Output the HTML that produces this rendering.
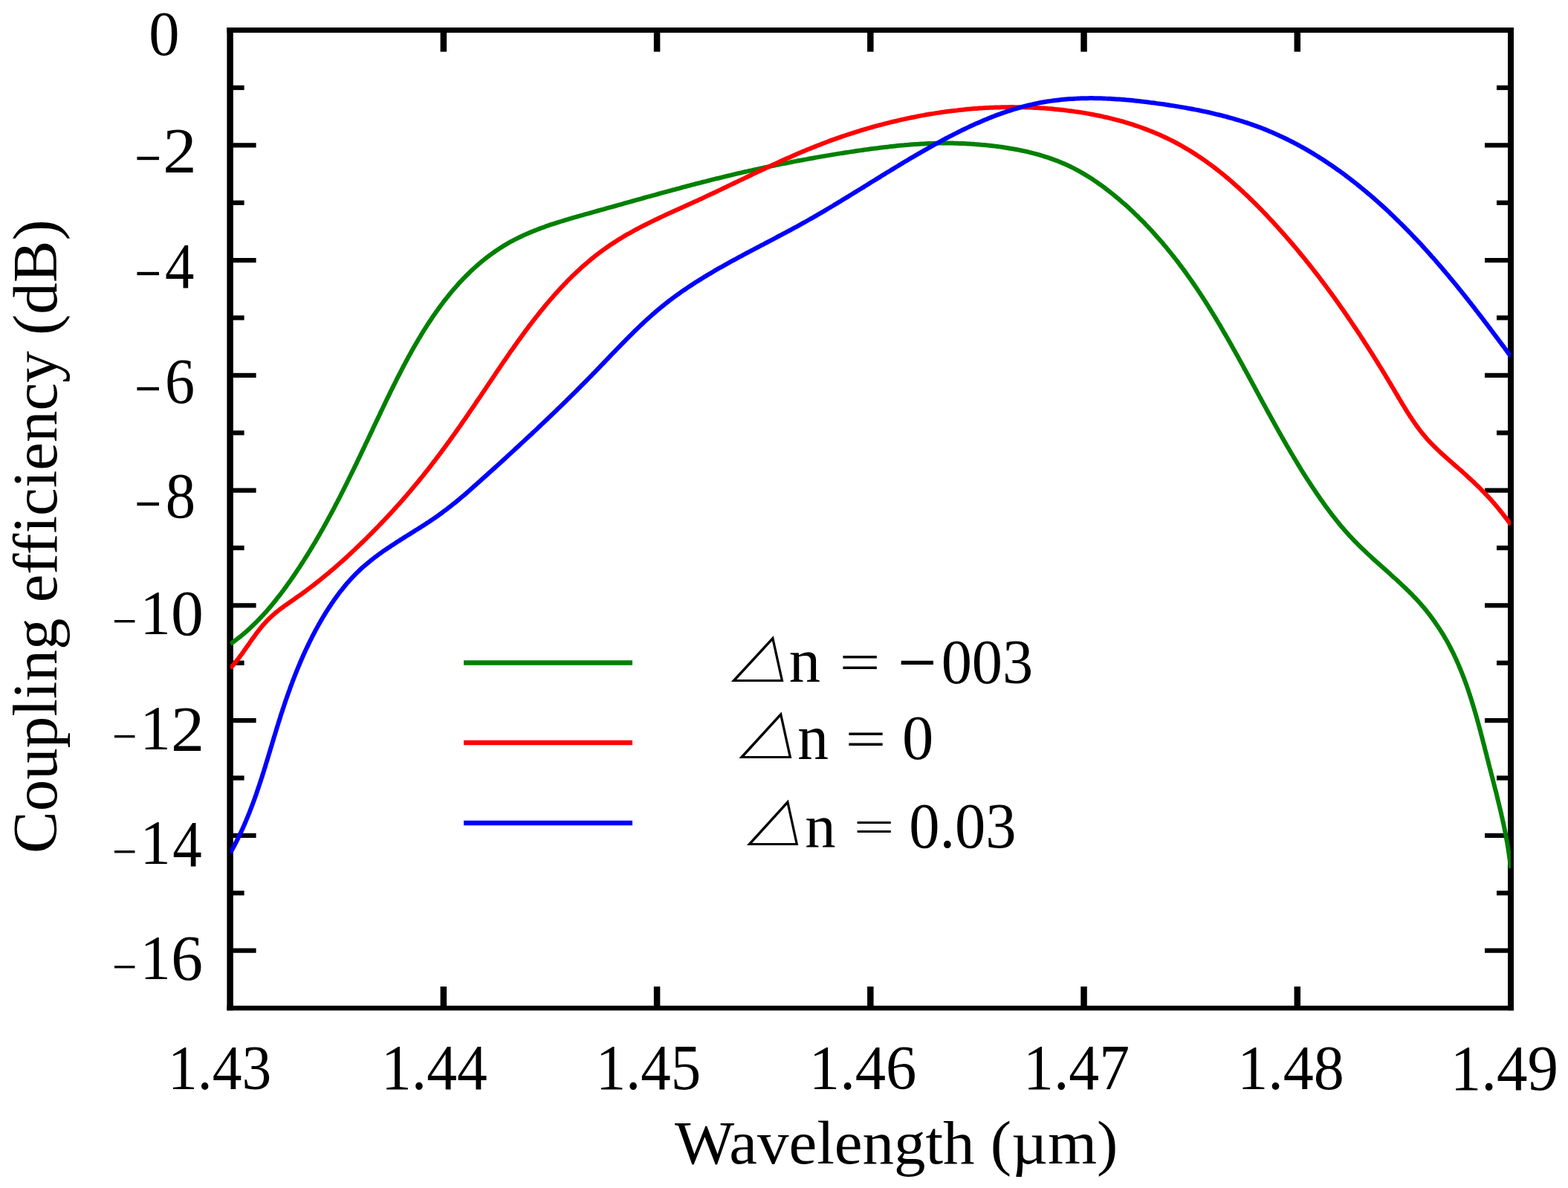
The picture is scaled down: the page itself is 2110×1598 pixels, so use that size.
<!DOCTYPE html>
<html><head><meta charset="utf-8"><title>Coupling efficiency vs wavelength</title><style>html,body{margin:0;padding:0;background:#fff;overflow:hidden}svg{display:block}</style></head><body>
<svg xmlns="http://www.w3.org/2000/svg" width="2110" height="1598" viewBox="0 0 2110 1598">
<rect width="2110" height="1598" fill="#fff"/>
<g stroke="#000" fill="none">
<line x1="309.6" y1="117.98" x2="328.6" y2="117.98" stroke-width="6.3"/>
<line x1="2033.0" y1="117.98" x2="2014.0" y2="117.98" stroke-width="6.3"/>
<line x1="309.6" y1="195.35" x2="344.6" y2="195.35" stroke-width="6.3"/>
<line x1="2033.0" y1="195.35" x2="1998.0" y2="195.35" stroke-width="6.3"/>
<line x1="309.6" y1="272.73" x2="328.6" y2="272.73" stroke-width="6.3"/>
<line x1="2033.0" y1="272.73" x2="2014.0" y2="272.73" stroke-width="6.3"/>
<line x1="309.6" y1="350.11" x2="344.6" y2="350.11" stroke-width="6.3"/>
<line x1="2033.0" y1="350.11" x2="1998.0" y2="350.11" stroke-width="6.3"/>
<line x1="309.6" y1="427.48" x2="328.6" y2="427.48" stroke-width="6.3"/>
<line x1="2033.0" y1="427.48" x2="2014.0" y2="427.48" stroke-width="6.3"/>
<line x1="309.6" y1="504.86" x2="344.6" y2="504.86" stroke-width="6.3"/>
<line x1="2033.0" y1="504.86" x2="1998.0" y2="504.86" stroke-width="6.3"/>
<line x1="309.6" y1="582.24" x2="328.6" y2="582.24" stroke-width="6.3"/>
<line x1="2033.0" y1="582.24" x2="2014.0" y2="582.24" stroke-width="6.3"/>
<line x1="309.6" y1="659.61" x2="344.6" y2="659.61" stroke-width="6.3"/>
<line x1="2033.0" y1="659.61" x2="1998.0" y2="659.61" stroke-width="6.3"/>
<line x1="309.6" y1="736.99" x2="328.6" y2="736.99" stroke-width="6.3"/>
<line x1="2033.0" y1="736.99" x2="2014.0" y2="736.99" stroke-width="6.3"/>
<line x1="309.6" y1="814.36" x2="344.6" y2="814.36" stroke-width="6.3"/>
<line x1="2033.0" y1="814.36" x2="1998.0" y2="814.36" stroke-width="6.3"/>
<line x1="309.6" y1="891.74" x2="328.6" y2="891.74" stroke-width="6.3"/>
<line x1="2033.0" y1="891.74" x2="2014.0" y2="891.74" stroke-width="6.3"/>
<line x1="309.6" y1="969.12" x2="344.6" y2="969.12" stroke-width="6.3"/>
<line x1="2033.0" y1="969.12" x2="1998.0" y2="969.12" stroke-width="6.3"/>
<line x1="309.6" y1="1046.49" x2="328.6" y2="1046.49" stroke-width="6.3"/>
<line x1="2033.0" y1="1046.49" x2="2014.0" y2="1046.49" stroke-width="6.3"/>
<line x1="309.6" y1="1123.87" x2="344.6" y2="1123.87" stroke-width="6.3"/>
<line x1="2033.0" y1="1123.87" x2="1998.0" y2="1123.87" stroke-width="6.3"/>
<line x1="309.6" y1="1201.25" x2="328.6" y2="1201.25" stroke-width="6.3"/>
<line x1="2033.0" y1="1201.25" x2="2014.0" y2="1201.25" stroke-width="6.3"/>
<line x1="309.6" y1="1278.62" x2="344.6" y2="1278.62" stroke-width="6.3"/>
<line x1="2033.0" y1="1278.62" x2="1998.0" y2="1278.62" stroke-width="6.3"/>
<line x1="596.83" y1="40.6" x2="596.83" y2="69.6" stroke-width="8.5"/>
<line x1="596.83" y1="1356.0" x2="596.83" y2="1327.0" stroke-width="8.5"/>
<line x1="884.07" y1="40.6" x2="884.07" y2="69.6" stroke-width="8.5"/>
<line x1="884.07" y1="1356.0" x2="884.07" y2="1327.0" stroke-width="8.5"/>
<line x1="1171.30" y1="40.6" x2="1171.30" y2="69.6" stroke-width="8.5"/>
<line x1="1171.30" y1="1356.0" x2="1171.30" y2="1327.0" stroke-width="8.5"/>
<line x1="1458.53" y1="40.6" x2="1458.53" y2="69.6" stroke-width="8.5"/>
<line x1="1458.53" y1="1356.0" x2="1458.53" y2="1327.0" stroke-width="8.5"/>
<line x1="1745.77" y1="40.6" x2="1745.77" y2="69.6" stroke-width="8.5"/>
<line x1="1745.77" y1="1356.0" x2="1745.77" y2="1327.0" stroke-width="8.5"/>
<line x1="309.6" y1="37.1" x2="309.6" y2="1359.25" stroke-width="8.5"/>
<line x1="2033.0" y1="37.1" x2="2033.0" y2="1359.25" stroke-width="8"/>
<line x1="305.35" y1="40.6" x2="2037.0" y2="40.6" stroke-width="7"/>
<line x1="305.35" y1="1356.0" x2="2037.0" y2="1356.0" stroke-width="6.5"/>
</g>
<defs><clipPath id="pc"><rect x="309.6" y="40.6" width="1723.4" height="1315.4"/></clipPath></defs>
<g fill="none" stroke-width="6.0" stroke-linejoin="round" clip-path="url(#pc)">
<path stroke="#008000" d="M310.0,866.1 L312.4,864.5 L314.7,862.8 L317.0,861.1 L319.3,859.4 L321.6,857.6 L323.9,855.8 L326.1,854.0 L328.4,852.1 L330.6,850.2 L332.8,848.3 L335.0,846.3 L337.1,844.3 L339.3,842.3 L341.4,840.2 L343.6,838.1 L345.7,836.0 L347.8,833.9 L349.8,831.7 L351.9,829.6 L353.9,827.4 L356.0,825.1 L358.0,822.9 L360.0,820.6 L362.0,818.3 L363.9,816.0 L365.9,813.7 L367.8,811.3 L369.7,809.0 L371.6,806.6 L373.5,804.2 L375.4,801.8 L377.3,799.4 L379.1,796.9 L381.0,794.5 L382.8,792.0 L384.6,789.6 L386.4,787.1 L388.2,784.6 L390.0,782.1 L391.7,779.6 L393.5,777.1 L395.2,774.5 L396.9,772.0 L398.6,769.5 L400.3,766.9 L402.0,764.4 L403.7,761.9 L405.3,759.3 L407.0,756.8 L408.6,754.2 L410.2,751.7 L411.8,749.1 L413.4,746.6 L415.0,744.0 L416.6,741.5 L418.1,738.9 L419.7,736.4 L421.2,733.8 L422.8,731.2 L424.3,728.7 L425.8,726.1 L427.3,723.5 L428.8,721.0 L430.3,718.4 L431.7,715.8 L433.2,713.2 L434.7,710.7 L436.1,708.1 L437.6,705.5 L439.0,702.9 L440.4,700.3 L441.8,697.7 L443.2,695.1 L444.6,692.6 L446.0,690.0 L447.4,687.4 L448.8,684.8 L450.2,682.2 L451.5,679.5 L452.9,676.9 L454.3,674.3 L455.6,671.7 L457.0,669.1 L458.3,666.5 L459.6,663.9 L461.0,661.2 L462.3,658.6 L463.6,656.0 L464.9,653.4 L466.2,650.7 L467.5,648.1 L468.8,645.5 L470.1,642.8 L471.4,640.2 L472.7,637.5 L474.0,634.9 L475.3,632.2 L476.6,629.6 L477.9,626.9 L479.2,624.3 L480.5,621.6 L481.7,618.9 L483.0,616.3 L484.3,613.6 L485.6,610.9 L486.8,608.3 L488.1,605.6 L489.4,602.9 L490.7,600.2 L491.9,597.5 L493.2,594.9 L494.5,592.2 L495.8,589.5 L497.0,586.8 L498.3,584.1 L499.6,581.4 L500.9,578.7 L502.1,576.0 L503.4,573.3 L504.7,570.6 L506.0,567.8 L507.3,565.1 L508.6,562.4 L509.9,559.7 L511.2,557.0 L512.4,554.2 L513.8,551.5 L515.1,548.8 L516.4,546.0 L517.7,543.3 L519.0,540.5 L520.3,537.8 L521.6,535.1 L523.0,532.3 L524.3,529.6 L525.6,526.8 L527.0,524.1 L528.3,521.4 L529.7,518.6 L531.1,515.9 L532.4,513.2 L533.8,510.4 L535.2,507.7 L536.6,505.0 L538.0,502.3 L539.4,499.5 L540.8,496.8 L542.2,494.1 L543.6,491.4 L545.1,488.7 L546.5,486.0 L548.0,483.3 L549.4,480.6 L550.9,478.0 L552.4,475.3 L553.8,472.6 L555.3,470.0 L556.8,467.3 L558.3,464.7 L559.9,462.0 L561.4,459.4 L562.9,456.8 L564.5,454.2 L566.1,451.6 L567.6,449.0 L569.2,446.4 L570.8,443.8 L572.4,441.3 L574.1,438.7 L575.7,436.2 L577.3,433.7 L579.0,431.2 L580.7,428.7 L582.3,426.2 L584.0,423.7 L585.8,421.3 L587.5,418.8 L589.2,416.4 L591.0,414.0 L592.7,411.6 L594.5,409.2 L596.3,406.8 L598.1,404.4 L599.9,402.1 L601.8,399.8 L603.6,397.5 L605.5,395.2 L607.4,392.9 L609.3,390.6 L611.2,388.4 L613.1,386.2 L615.1,384.0 L617.0,381.8 L619.0,379.6 L621.0,377.5 L623.0,375.4 L625.0,373.3 L627.1,371.2 L629.2,369.1 L631.2,367.1 L633.3,365.0 L635.5,363.0 L637.6,361.1 L639.8,359.1 L641.9,357.2 L644.1,355.3 L646.4,353.4 L648.6,351.5 L650.8,349.7 L653.1,347.9 L655.4,346.1 L657.7,344.3 L660.1,342.6 L662.4,340.9 L664.8,339.2 L667.2,337.5 L669.6,335.9 L672.1,334.3 L674.5,332.7 L677.0,331.1 L679.5,329.6 L682.1,328.1 L684.6,326.7 L687.2,325.2 L689.8,323.8 L692.4,322.4 L695.1,321.1 L697.7,319.8 L700.4,318.5 L703.1,317.2 L705.8,315.9 L708.6,314.7 L711.4,313.5 L714.1,312.4 L716.9,311.2 L719.7,310.1 L722.6,309.0 L725.4,307.9 L728.3,306.8 L731.1,305.8 L734.0,304.7 L736.9,303.7 L739.8,302.7 L742.7,301.7 L745.6,300.8 L748.6,299.8 L751.5,298.9 L754.4,298.0 L757.4,297.1 L760.3,296.2 L763.3,295.3 L766.2,294.4 L769.2,293.5 L772.2,292.7 L775.1,291.8 L778.1,291.0 L781.1,290.1 L784.0,289.3 L787.0,288.4 L790.0,287.6 L792.9,286.8 L795.9,286.0 L798.9,285.1 L801.8,284.3 L804.7,283.5 L807.7,282.7 L810.6,281.9 L813.5,281.1 L816.5,280.2 L819.4,279.4 L822.3,278.6 L825.2,277.8 L828.1,277.0 L831.0,276.2 L833.9,275.4 L836.8,274.6 L839.7,273.7 L842.6,272.9 L845.4,272.1 L848.3,271.3 L851.2,270.5 L854.1,269.7 L856.9,268.9 L859.8,268.1 L862.7,267.3 L865.5,266.5 L868.4,265.7 L871.2,264.9 L874.1,264.1 L877.0,263.3 L879.8,262.6 L882.7,261.8 L885.5,261.0 L888.3,260.2 L891.2,259.4 L894.0,258.6 L896.9,257.9 L899.7,257.1 L902.6,256.3 L905.4,255.5 L908.3,254.8 L911.1,254.0 L914.0,253.3 L916.8,252.5 L919.6,251.7 L922.5,251.0 L925.3,250.2 L928.2,249.5 L931.0,248.7 L933.9,248.0 L936.7,247.2 L939.6,246.5 L942.4,245.8 L945.3,245.0 L948.2,244.3 L951.0,243.6 L953.9,242.8 L956.8,242.1 L959.6,241.4 L962.5,240.7 L965.4,240.0 L968.3,239.3 L971.1,238.6 L974.0,237.9 L976.9,237.2 L979.8,236.5 L982.7,235.8 L985.6,235.1 L988.5,234.4 L991.4,233.7 L994.3,233.0 L997.2,232.4 L1000.2,231.7 L1003.1,231.0 L1006.0,230.4 L1008.9,229.7 L1011.9,229.1 L1014.8,228.4 L1017.7,227.8 L1020.7,227.1 L1023.6,226.5 L1026.6,225.9 L1029.5,225.2 L1032.5,224.6 L1035.4,224.0 L1038.4,223.4 L1041.3,222.8 L1044.3,222.1 L1047.3,221.5 L1050.2,220.9 L1053.2,220.3 L1056.1,219.8 L1059.1,219.2 L1062.1,218.6 L1065.0,218.0 L1068.0,217.4 L1071.0,216.9 L1074.0,216.3 L1076.9,215.7 L1079.9,215.2 L1082.9,214.6 L1085.9,214.1 L1088.8,213.5 L1091.8,213.0 L1094.8,212.5 L1097.8,211.9 L1100.7,211.4 L1103.7,210.9 L1106.7,210.4 L1109.7,209.9 L1112.7,209.4 L1115.6,208.9 L1118.6,208.4 L1121.6,207.9 L1124.6,207.4 L1127.5,206.9 L1130.5,206.4 L1133.5,206.0 L1136.5,205.5 L1139.4,205.0 L1142.4,204.6 L1145.4,204.1 L1148.3,203.7 L1151.3,203.2 L1154.3,202.8 L1157.2,202.4 L1160.2,202.0 L1163.2,201.5 L1166.1,201.1 L1169.1,200.7 L1172.0,200.3 L1175.0,199.9 L1178.0,199.5 L1180.9,199.2 L1183.9,198.8 L1186.8,198.4 L1189.8,198.1 L1192.7,197.7 L1195.7,197.4 L1198.6,197.0 L1201.6,196.7 L1204.5,196.4 L1207.5,196.1 L1210.4,195.8 L1213.4,195.5 L1216.3,195.3 L1219.3,195.0 L1222.2,194.8 L1225.2,194.5 L1228.2,194.3 L1231.1,194.1 L1234.1,193.9 L1237.0,193.7 L1240.0,193.5 L1243.0,193.4 L1246.0,193.2 L1248.9,193.1 L1251.9,193.0 L1254.9,192.9 L1257.9,192.8 L1260.9,192.7 L1263.8,192.6 L1266.8,192.6 L1269.8,192.6 L1272.8,192.6 L1275.8,192.6 L1278.8,192.6 L1281.8,192.6 L1284.8,192.7 L1287.8,192.8 L1290.9,192.9 L1293.9,193.0 L1296.9,193.1 L1299.9,193.2 L1302.9,193.4 L1305.9,193.6 L1308.9,193.7 L1311.9,194.0 L1314.9,194.2 L1317.9,194.4 L1321.0,194.7 L1324.0,194.9 L1327.0,195.2 L1330.0,195.6 L1333.0,195.9 L1336.0,196.2 L1339.0,196.6 L1342.0,197.0 L1345.0,197.4 L1348.0,197.8 L1351.0,198.2 L1353.9,198.7 L1356.9,199.2 L1359.9,199.7 L1362.9,200.2 L1365.8,200.7 L1368.8,201.3 L1371.7,201.9 L1374.7,202.5 L1377.6,203.1 L1380.6,203.7 L1383.5,204.4 L1386.4,205.1 L1389.3,205.9 L1392.2,206.6 L1395.1,207.4 L1398.0,208.2 L1400.8,209.0 L1403.7,209.9 L1406.5,210.8 L1409.4,211.7 L1412.2,212.6 L1415.0,213.6 L1417.8,214.6 L1420.6,215.7 L1423.4,216.7 L1426.1,217.8 L1428.9,219.0 L1431.6,220.1 L1434.3,221.3 L1437.0,222.5 L1439.7,223.8 L1442.3,225.1 L1445.0,226.4 L1447.6,227.8 L1450.2,229.2 L1452.8,230.6 L1455.4,232.1 L1458.0,233.6 L1460.5,235.1 L1463.0,236.6 L1465.6,238.2 L1468.1,239.8 L1470.6,241.4 L1473.0,243.1 L1475.5,244.8 L1477.9,246.5 L1480.4,248.2 L1482.8,249.9 L1485.2,251.7 L1487.6,253.5 L1490.0,255.3 L1492.3,257.1 L1494.7,259.0 L1497.0,260.8 L1499.3,262.7 L1501.6,264.6 L1503.9,266.5 L1506.2,268.4 L1508.5,270.4 L1510.8,272.4 L1513.0,274.3 L1515.3,276.3 L1517.5,278.3 L1519.7,280.3 L1521.9,282.4 L1524.1,284.4 L1526.3,286.5 L1528.4,288.6 L1530.6,290.6 L1532.7,292.8 L1534.8,294.9 L1537.0,297.0 L1539.1,299.1 L1541.1,301.3 L1543.2,303.5 L1545.3,305.6 L1547.3,307.8 L1549.4,310.0 L1551.4,312.2 L1553.4,314.5 L1555.4,316.7 L1557.4,318.9 L1559.4,321.2 L1561.4,323.5 L1563.4,325.7 L1565.3,328.0 L1567.2,330.3 L1569.2,332.6 L1571.1,335.0 L1573.0,337.3 L1574.9,339.6 L1576.8,342.0 L1578.6,344.3 L1580.5,346.7 L1582.3,349.0 L1584.2,351.4 L1586.0,353.8 L1587.8,356.2 L1589.6,358.6 L1591.4,361.0 L1593.2,363.4 L1594.9,365.8 L1596.7,368.3 L1598.4,370.7 L1600.2,373.1 L1601.9,375.6 L1603.6,378.0 L1605.3,380.5 L1607.0,383.0 L1608.7,385.4 L1610.4,387.9 L1612.0,390.4 L1613.7,392.9 L1615.3,395.4 L1617.0,397.9 L1618.6,400.4 L1620.2,402.9 L1621.8,405.4 L1623.5,408.0 L1625.1,410.5 L1626.6,413.0 L1628.2,415.6 L1629.8,418.1 L1631.4,420.7 L1632.9,423.2 L1634.5,425.8 L1636.1,428.3 L1637.6,430.9 L1639.1,433.5 L1640.7,436.0 L1642.2,438.6 L1643.7,441.2 L1645.2,443.8 L1646.7,446.4 L1648.2,448.9 L1649.7,451.5 L1651.2,454.1 L1652.7,456.7 L1654.2,459.3 L1655.7,461.9 L1657.2,464.5 L1658.6,467.2 L1660.1,469.8 L1661.6,472.4 L1663.0,475.0 L1664.5,477.6 L1666.0,480.2 L1667.4,482.9 L1668.9,485.5 L1670.3,488.1 L1671.8,490.7 L1673.2,493.4 L1674.6,496.0 L1676.1,498.6 L1677.5,501.3 L1679.0,503.9 L1680.4,506.5 L1681.8,509.2 L1683.3,511.8 L1684.7,514.4 L1686.1,517.1 L1687.6,519.7 L1689.0,522.3 L1690.4,525.0 L1691.8,527.6 L1693.3,530.3 L1694.7,532.9 L1696.1,535.5 L1697.6,538.2 L1699.0,540.8 L1700.4,543.4 L1701.9,546.1 L1703.3,548.7 L1704.7,551.3 L1706.2,554.0 L1707.6,556.6 L1709.1,559.2 L1710.5,561.8 L1712.0,564.5 L1713.4,567.1 L1714.9,569.7 L1716.3,572.3 L1717.8,574.9 L1719.3,577.6 L1720.7,580.2 L1722.2,582.8 L1723.7,585.4 L1725.1,588.0 L1726.6,590.6 L1728.1,593.2 L1729.6,595.8 L1731.1,598.4 L1732.6,601.0 L1734.1,603.5 L1735.6,606.1 L1737.1,608.7 L1738.7,611.3 L1740.2,613.8 L1741.7,616.4 L1743.3,619.0 L1744.8,621.5 L1746.4,624.1 L1747.9,626.6 L1749.5,629.2 L1751.0,631.7 L1752.6,634.3 L1754.2,636.8 L1755.8,639.3 L1757.4,641.8 L1759.0,644.4 L1760.6,646.9 L1762.3,649.4 L1763.9,651.9 L1765.5,654.4 L1767.2,656.9 L1768.9,659.3 L1770.5,661.8 L1772.2,664.3 L1773.9,666.8 L1775.6,669.2 L1777.3,671.7 L1779.0,674.1 L1780.7,676.5 L1782.5,679.0 L1784.2,681.4 L1786.0,683.8 L1787.8,686.2 L1789.6,688.6 L1791.4,691.0 L1793.2,693.3 L1795.0,695.7 L1796.9,698.0 L1798.7,700.4 L1800.6,702.7 L1802.5,705.0 L1804.4,707.3 L1806.3,709.6 L1808.3,711.8 L1810.2,714.1 L1812.2,716.3 L1814.2,718.5 L1816.2,720.8 L1818.3,722.9 L1820.3,725.1 L1822.4,727.3 L1824.5,729.4 L1826.6,731.5 L1828.7,733.7 L1830.9,735.8 L1833.0,737.8 L1835.2,739.9 L1837.4,742.0 L1839.6,744.1 L1841.8,746.1 L1844.0,748.1 L1846.2,750.2 L1848.4,752.2 L1850.6,754.2 L1852.9,756.3 L1855.1,758.3 L1857.4,760.3 L1859.6,762.3 L1861.9,764.3 L1864.1,766.3 L1866.4,768.3 L1868.6,770.3 L1870.9,772.3 L1873.1,774.4 L1875.4,776.4 L1877.6,778.4 L1879.8,780.4 L1882.0,782.5 L1884.3,784.5 L1886.4,786.6 L1888.6,788.6 L1890.8,790.7 L1893.0,792.8 L1895.1,794.9 L1897.2,797.0 L1899.4,799.1 L1901.4,801.3 L1903.5,803.4 L1905.6,805.6 L1907.6,807.8 L1909.6,810.0 L1911.6,812.2 L1913.5,814.5 L1915.5,816.7 L1917.4,819.0 L1919.3,821.3 L1921.1,823.7 L1923.0,826.0 L1924.8,828.4 L1926.5,830.7 L1928.3,833.1 L1930.0,835.5 L1931.7,838.0 L1933.4,840.4 L1935.1,842.9 L1936.7,845.3 L1938.3,847.8 L1939.9,850.3 L1941.5,852.9 L1943.0,855.4 L1944.5,858.0 L1946.0,860.5 L1947.5,863.1 L1948.9,865.7 L1950.3,868.3 L1951.7,871.0 L1953.0,873.6 L1954.4,876.3 L1955.7,878.9 L1957.0,881.6 L1958.2,884.3 L1959.5,887.0 L1960.7,889.7 L1961.9,892.4 L1963.1,895.2 L1964.2,897.9 L1965.4,900.7 L1966.5,903.4 L1967.6,906.2 L1968.7,909.0 L1969.8,911.8 L1970.8,914.6 L1971.9,917.4 L1972.9,920.3 L1973.9,923.1 L1974.9,925.9 L1975.9,928.8 L1976.8,931.6 L1977.8,934.5 L1978.7,937.4 L1979.6,940.2 L1980.5,943.1 L1981.4,946.0 L1982.3,948.9 L1983.2,951.8 L1984.0,954.7 L1984.9,957.6 L1985.7,960.5 L1986.6,963.4 L1987.4,966.3 L1988.2,969.2 L1989.0,972.1 L1989.8,975.1 L1990.6,978.0 L1991.4,980.9 L1992.2,983.8 L1992.9,986.8 L1993.7,989.7 L1994.5,992.6 L1995.2,995.6 L1996.0,998.5 L1996.7,1001.4 L1997.5,1004.3 L1998.2,1007.3 L1999.0,1010.2 L1999.7,1013.1 L2000.5,1016.0 L2001.2,1019.0 L2002.0,1021.9 L2002.7,1024.8 L2003.4,1027.7 L2004.2,1030.6 L2004.9,1033.5 L2005.7,1036.4 L2006.4,1039.3 L2007.2,1042.2 L2007.9,1045.1 L2008.7,1048.0 L2009.4,1050.9 L2010.1,1053.8 L2010.9,1056.7 L2011.6,1059.6 L2012.3,1062.4 L2013.1,1065.3 L2013.8,1068.2 L2014.5,1071.1 L2015.2,1074.0 L2015.9,1076.9 L2016.6,1079.7 L2017.3,1082.6 L2018.0,1085.5 L2018.7,1088.4 L2019.4,1091.3 L2020.1,1094.2 L2020.7,1097.1 L2021.4,1100.0 L2022.0,1102.9 L2022.7,1105.8 L2023.3,1108.7 L2023.9,1111.6 L2024.5,1114.5 L2025.1,1117.4 L2025.7,1120.4 L2026.2,1123.3 L2026.8,1126.2 L2027.3,1129.2 L2027.9,1132.1 L2028.4,1135.0 L2028.9,1138.0 L2029.4,1141.0 L2029.8,1143.9 L2030.3,1146.9 L2030.7,1149.9 L2031.1,1152.9 L2031.6,1155.9 L2031.9,1158.9 L2032.3,1161.9 L2032.7,1164.9 L2033.0,1167.9"/>
<path stroke="#ff0000" d="M310.0,898.8 L312.0,896.6 L314.0,894.3 L315.9,892.1 L317.8,889.7 L319.6,887.4 L321.4,885.0 L323.2,882.6 L325.0,880.2 L326.8,877.7 L328.5,875.3 L330.3,872.8 L332.0,870.3 L333.7,867.9 L335.5,865.4 L337.2,862.9 L338.9,860.4 L340.7,858.0 L342.5,855.6 L344.2,853.1 L346.0,850.7 L347.9,848.4 L349.7,846.0 L351.6,843.7 L353.5,841.4 L355.4,839.2 L357.4,837.0 L359.5,834.8 L361.5,832.7 L363.7,830.6 L365.9,828.6 L368.1,826.7 L370.3,824.8 L372.6,822.9 L375.0,821.0 L377.3,819.2 L379.7,817.4 L382.1,815.7 L384.5,813.9 L387.0,812.2 L389.4,810.5 L391.9,808.8 L394.4,807.1 L396.8,805.3 L399.3,803.6 L401.7,801.9 L404.1,800.2 L406.6,798.5 L409.0,796.7 L411.4,795.0 L413.7,793.2 L416.1,791.4 L418.5,789.6 L420.8,787.8 L423.2,786.0 L425.5,784.2 L427.8,782.4 L430.1,780.5 L432.4,778.7 L434.7,776.8 L437.0,774.9 L439.3,773.0 L441.6,771.2 L443.8,769.3 L446.1,767.3 L448.3,765.4 L450.6,763.5 L452.8,761.6 L455.0,759.6 L457.3,757.6 L459.5,755.7 L461.7,753.7 L463.9,751.7 L466.1,749.7 L468.3,747.7 L470.4,745.7 L472.6,743.7 L474.8,741.6 L477.0,739.6 L479.1,737.5 L481.3,735.5 L483.5,733.4 L485.6,731.3 L487.8,729.3 L489.9,727.2 L492.1,725.1 L494.2,723.0 L496.3,720.8 L498.5,718.7 L500.6,716.6 L502.7,714.4 L504.8,712.3 L506.9,710.1 L509.0,708.0 L511.1,705.8 L513.2,703.6 L515.3,701.4 L517.4,699.3 L519.4,697.1 L521.5,694.9 L523.6,692.6 L525.6,690.4 L527.6,688.2 L529.7,686.0 L531.7,683.7 L533.7,681.5 L535.8,679.3 L537.8,677.0 L539.8,674.8 L541.8,672.5 L543.7,670.2 L545.7,668.0 L547.7,665.7 L549.6,663.4 L551.6,661.1 L553.5,658.8 L555.5,656.5 L557.4,654.2 L559.3,651.9 L561.2,649.6 L563.1,647.3 L565.0,645.0 L566.9,642.7 L568.8,640.4 L570.6,638.1 L572.5,635.7 L574.3,633.4 L576.2,631.1 L578.0,628.7 L579.8,626.4 L581.6,624.0 L583.4,621.7 L585.3,619.3 L587.0,617.0 L588.8,614.6 L590.6,612.2 L592.4,609.9 L594.2,607.5 L595.9,605.1 L597.7,602.7 L599.4,600.4 L601.2,598.0 L602.9,595.6 L604.7,593.2 L606.4,590.8 L608.1,588.4 L609.8,586.0 L611.6,583.6 L613.3,581.2 L615.0,578.7 L616.7,576.3 L618.4,573.9 L620.1,571.5 L621.8,569.0 L623.5,566.6 L625.2,564.2 L626.9,561.7 L628.6,559.3 L630.3,556.8 L631.9,554.4 L633.6,551.9 L635.3,549.4 L637.0,547.0 L638.7,544.5 L640.3,542.0 L642.0,539.5 L643.7,537.1 L645.4,534.6 L647.1,532.1 L648.7,529.6 L650.4,527.1 L652.1,524.6 L653.8,522.1 L655.4,519.6 L657.1,517.1 L658.8,514.6 L660.5,512.1 L662.2,509.6 L663.9,507.1 L665.6,504.6 L667.2,502.1 L668.9,499.6 L670.6,497.1 L672.3,494.6 L674.0,492.1 L675.7,489.6 L677.4,487.1 L679.2,484.6 L680.9,482.1 L682.6,479.6 L684.3,477.1 L686.0,474.6 L687.8,472.1 L689.5,469.7 L691.3,467.2 L693.0,464.7 L694.8,462.2 L696.5,459.8 L698.3,457.3 L700.0,454.9 L701.8,452.4 L703.6,450.0 L705.4,447.6 L707.2,445.1 L709.0,442.7 L710.8,440.3 L712.6,437.9 L714.4,435.5 L716.3,433.1 L718.1,430.7 L719.9,428.4 L721.8,426.0 L723.7,423.6 L725.5,421.3 L727.4,418.9 L729.3,416.6 L731.2,414.3 L733.1,412.0 L735.0,409.7 L736.9,407.4 L738.9,405.1 L740.8,402.9 L742.8,400.6 L744.7,398.4 L746.7,396.1 L748.7,393.9 L750.7,391.7 L752.7,389.5 L754.7,387.3 L756.8,385.2 L758.8,383.0 L760.9,380.9 L762.9,378.7 L765.0,376.6 L767.1,374.5 L769.2,372.4 L771.3,370.4 L773.5,368.3 L775.6,366.3 L777.8,364.3 L779.9,362.3 L782.1,360.3 L784.3,358.3 L786.5,356.4 L788.8,354.4 L791.0,352.5 L793.3,350.6 L795.5,348.7 L797.8,346.9 L800.1,345.0 L802.4,343.2 L804.8,341.4 L807.1,339.6 L809.5,337.8 L811.9,336.1 L814.3,334.4 L816.7,332.7 L819.1,331.0 L821.6,329.3 L824.0,327.7 L826.5,326.1 L829.0,324.5 L831.5,322.9 L834.0,321.3 L836.6,319.8 L839.1,318.2 L841.7,316.7 L844.3,315.2 L846.9,313.8 L849.5,312.3 L852.1,310.9 L854.8,309.4 L857.4,308.0 L860.1,306.6 L862.7,305.2 L865.4,303.8 L868.1,302.5 L870.8,301.1 L873.5,299.8 L876.2,298.4 L878.9,297.1 L881.6,295.8 L884.4,294.5 L887.1,293.2 L889.8,291.9 L892.6,290.6 L895.3,289.3 L898.1,288.0 L900.8,286.8 L903.6,285.5 L906.4,284.2 L909.1,283.0 L911.9,281.7 L914.7,280.5 L917.4,279.2 L920.2,278.0 L923.0,276.7 L925.7,275.5 L928.5,274.2 L931.3,273.0 L934.0,271.7 L936.8,270.4 L939.6,269.2 L942.3,267.9 L945.1,266.7 L947.8,265.4 L950.5,264.1 L953.3,262.8 L956.0,261.6 L958.8,260.3 L961.5,259.0 L964.2,257.7 L966.9,256.4 L969.7,255.1 L972.4,253.8 L975.1,252.5 L977.8,251.2 L980.5,249.9 L983.2,248.6 L986.0,247.3 L988.7,246.0 L991.4,244.7 L994.1,243.4 L996.8,242.1 L999.5,240.9 L1002.2,239.6 L1004.9,238.3 L1007.6,237.0 L1010.3,235.7 L1013.0,234.4 L1015.7,233.1 L1018.4,231.8 L1021.1,230.6 L1023.8,229.3 L1026.5,228.0 L1029.2,226.7 L1031.9,225.5 L1034.6,224.2 L1037.3,223.0 L1040.0,221.7 L1042.8,220.5 L1045.5,219.2 L1048.2,218.0 L1050.9,216.7 L1053.6,215.5 L1056.3,214.3 L1059.0,213.1 L1061.8,211.9 L1064.5,210.7 L1067.2,209.5 L1070.0,208.3 L1072.7,207.1 L1075.4,205.9 L1078.2,204.8 L1080.9,203.6 L1083.7,202.5 L1086.4,201.3 L1089.2,200.2 L1091.9,199.1 L1094.7,198.0 L1097.5,196.9 L1100.2,195.8 L1103.0,194.7 L1105.8,193.6 L1108.6,192.5 L1111.4,191.5 L1114.1,190.5 L1116.9,189.4 L1119.7,188.4 L1122.6,187.4 L1125.4,186.4 L1128.2,185.4 L1131.0,184.4 L1133.8,183.4 L1136.6,182.5 L1139.5,181.5 L1142.3,180.6 L1145.1,179.7 L1148.0,178.8 L1150.8,177.8 L1153.7,177.0 L1156.5,176.1 L1159.4,175.2 L1162.3,174.3 L1165.1,173.5 L1168.0,172.6 L1170.9,171.8 L1173.7,171.0 L1176.6,170.2 L1179.5,169.4 L1182.4,168.6 L1185.3,167.8 L1188.2,167.1 L1191.0,166.3 L1193.9,165.6 L1196.8,164.9 L1199.7,164.2 L1202.7,163.5 L1205.6,162.8 L1208.5,162.1 L1211.4,161.4 L1214.3,160.8 L1217.2,160.1 L1220.2,159.5 L1223.1,158.9 L1226.0,158.3 L1228.9,157.7 L1231.9,157.1 L1234.8,156.5 L1237.7,155.9 L1240.7,155.4 L1243.6,154.9 L1246.6,154.3 L1249.5,153.8 L1252.5,153.3 L1255.4,152.9 L1258.4,152.4 L1261.3,151.9 L1264.3,151.5 L1267.3,151.0 L1270.2,150.6 L1273.2,150.2 L1276.1,149.8 L1279.1,149.4 L1282.1,149.1 L1285.1,148.7 L1288.0,148.4 L1291.0,148.0 L1294.0,147.7 L1297.0,147.4 L1299.9,147.1 L1302.9,146.8 L1305.9,146.6 L1308.9,146.3 L1311.9,146.1 L1314.8,145.9 L1317.8,145.6 L1320.8,145.5 L1323.8,145.3 L1326.8,145.1 L1329.8,144.9 L1332.8,144.8 L1335.8,144.7 L1338.8,144.6 L1341.8,144.5 L1344.8,144.4 L1347.8,144.3 L1350.8,144.2 L1353.8,144.2 L1356.8,144.2 L1359.8,144.1 L1362.8,144.1 L1365.8,144.2 L1368.8,144.2 L1371.8,144.2 L1374.8,144.3 L1377.8,144.3 L1380.8,144.4 L1383.8,144.5 L1386.8,144.6 L1389.8,144.8 L1392.8,144.9 L1395.8,145.1 L1398.8,145.2 L1401.8,145.4 L1404.8,145.6 L1407.8,145.8 L1410.8,146.1 L1413.8,146.3 L1416.8,146.6 L1419.8,146.9 L1422.8,147.2 L1425.8,147.5 L1428.8,147.8 L1431.8,148.1 L1434.8,148.5 L1437.8,148.9 L1440.8,149.2 L1443.8,149.6 L1446.8,150.1 L1449.8,150.5 L1452.7,150.9 L1455.7,151.4 L1458.7,151.9 L1461.7,152.4 L1464.6,152.9 L1467.6,153.5 L1470.6,154.0 L1473.5,154.6 L1476.5,155.2 L1479.5,155.8 L1482.4,156.4 L1485.3,157.1 L1488.3,157.7 L1491.2,158.4 L1494.1,159.1 L1497.1,159.8 L1500.0,160.6 L1502.9,161.3 L1505.8,162.1 L1508.7,162.9 L1511.6,163.7 L1514.4,164.6 L1517.3,165.4 L1520.2,166.3 L1523.0,167.2 L1525.9,168.1 L1528.7,169.1 L1531.5,170.0 L1534.4,171.0 L1537.2,172.0 L1540.0,173.1 L1542.8,174.1 L1545.6,175.2 L1548.3,176.3 L1551.1,177.4 L1553.8,178.5 L1556.6,179.7 L1559.3,180.8 L1562.0,182.0 L1564.7,183.3 L1567.4,184.5 L1570.1,185.8 L1572.8,187.1 L1575.5,188.4 L1578.1,189.7 L1580.7,191.1 L1583.4,192.5 L1586.0,193.9 L1588.6,195.3 L1591.1,196.8 L1593.7,198.3 L1596.3,199.8 L1598.8,201.3 L1601.4,202.8 L1603.9,204.4 L1606.4,206.0 L1608.9,207.6 L1611.4,209.2 L1613.8,210.9 L1616.3,212.5 L1618.8,214.2 L1621.2,215.9 L1623.6,217.6 L1626.0,219.4 L1628.4,221.1 L1630.8,222.9 L1633.2,224.7 L1635.6,226.5 L1638.0,228.3 L1640.3,230.2 L1642.6,232.0 L1645.0,233.9 L1647.3,235.8 L1649.6,237.7 L1651.9,239.6 L1654.2,241.6 L1656.5,243.5 L1658.7,245.5 L1661.0,247.5 L1663.2,249.4 L1665.5,251.4 L1667.7,253.5 L1669.9,255.5 L1672.1,257.5 L1674.3,259.6 L1676.5,261.6 L1678.7,263.7 L1680.9,265.8 L1683.0,267.9 L1685.2,270.0 L1687.3,272.1 L1689.4,274.2 L1691.6,276.4 L1693.7,278.5 L1695.8,280.6 L1697.9,282.8 L1700.0,285.0 L1702.1,287.1 L1704.2,289.3 L1706.2,291.5 L1708.3,293.7 L1710.3,295.9 L1712.4,298.1 L1714.4,300.3 L1716.4,302.5 L1718.5,304.7 L1720.5,306.9 L1722.5,309.2 L1724.5,311.4 L1726.5,313.7 L1728.5,315.9 L1730.4,318.2 L1732.4,320.4 L1734.4,322.7 L1736.3,325.0 L1738.3,327.2 L1740.2,329.5 L1742.1,331.8 L1744.1,334.1 L1746.0,336.4 L1747.9,338.7 L1749.8,341.0 L1751.7,343.3 L1753.6,345.6 L1755.5,347.9 L1757.4,350.3 L1759.2,352.6 L1761.1,354.9 L1763.0,357.3 L1764.8,359.6 L1766.7,362.0 L1768.5,364.3 L1770.3,366.7 L1772.2,369.1 L1774.0,371.4 L1775.8,373.8 L1777.6,376.2 L1779.4,378.6 L1781.2,381.0 L1783.0,383.4 L1784.8,385.8 L1786.6,388.2 L1788.3,390.6 L1790.1,393.0 L1791.9,395.4 L1793.6,397.8 L1795.4,400.2 L1797.1,402.7 L1798.8,405.1 L1800.6,407.5 L1802.3,410.0 L1804.0,412.4 L1805.8,414.9 L1807.5,417.3 L1809.2,419.8 L1810.9,422.2 L1812.6,424.7 L1814.3,427.2 L1815.9,429.6 L1817.6,432.1 L1819.3,434.6 L1821.0,437.1 L1822.6,439.6 L1824.3,442.0 L1826.0,444.5 L1827.6,447.0 L1829.3,449.5 L1830.9,452.0 L1832.5,454.5 L1834.2,457.0 L1835.8,459.6 L1837.4,462.1 L1839.1,464.6 L1840.7,467.1 L1842.3,469.6 L1843.9,472.2 L1845.5,474.7 L1847.1,477.2 L1848.7,479.8 L1850.3,482.3 L1851.9,484.8 L1853.5,487.4 L1855.0,489.9 L1856.6,492.5 L1858.2,495.0 L1859.8,497.6 L1861.3,500.2 L1862.9,502.7 L1864.5,505.3 L1866.0,507.9 L1867.6,510.4 L1869.1,513.0 L1870.7,515.6 L1872.2,518.1 L1873.7,520.7 L1875.3,523.3 L1876.8,525.9 L1878.3,528.5 L1879.9,531.1 L1881.4,533.6 L1882.9,536.2 L1884.5,538.8 L1886.0,541.4 L1887.5,544.0 L1889.1,546.5 L1890.7,549.1 L1892.2,551.6 L1893.8,554.2 L1895.4,556.7 L1897.0,559.2 L1898.7,561.7 L1900.3,564.2 L1902.0,566.6 L1903.7,569.1 L1905.4,571.5 L1907.1,573.9 L1908.9,576.3 L1910.7,578.7 L1912.5,581.0 L1914.4,583.4 L1916.3,585.7 L1918.2,587.9 L1920.1,590.2 L1922.1,592.4 L1924.2,594.6 L1926.2,596.7 L1928.3,598.8 L1930.4,601.0 L1932.6,603.0 L1934.7,605.1 L1936.9,607.2 L1939.1,609.2 L1941.3,611.2 L1943.6,613.3 L1945.8,615.3 L1948.1,617.3 L1950.3,619.2 L1952.6,621.2 L1954.9,623.2 L1957.1,625.2 L1959.4,627.2 L1961.7,629.1 L1963.9,631.1 L1966.2,633.1 L1968.4,635.1 L1970.6,637.1 L1972.9,639.1 L1975.1,641.2 L1977.3,643.2 L1979.5,645.2 L1981.7,647.3 L1983.9,649.3 L1986.0,651.4 L1988.2,653.5 L1990.3,655.5 L1992.4,657.7 L1994.5,659.8 L1996.6,661.9 L1998.7,664.1 L2000.7,666.2 L2002.8,668.4 L2004.8,670.6 L2006.8,672.8 L2008.8,675.1 L2010.7,677.3 L2012.7,679.6 L2014.6,681.9 L2016.5,684.2 L2018.4,686.5 L2020.3,688.8 L2022.2,691.2 L2024.0,693.6 L2025.8,695.9 L2027.7,698.3 L2029.4,700.7 L2031.2,703.2 L2033.0,705.6"/>
<path stroke="#0000ff" d="M310.0,1147.1 L311.5,1144.5 L312.9,1141.8 L314.4,1139.2 L315.8,1136.5 L317.2,1133.9 L318.5,1131.2 L319.9,1128.5 L321.2,1125.8 L322.5,1123.1 L323.8,1120.4 L325.0,1117.7 L326.3,1115.0 L327.5,1112.3 L328.7,1109.6 L329.9,1106.8 L331.0,1104.1 L332.2,1101.3 L333.3,1098.6 L334.4,1095.8 L335.6,1093.1 L336.6,1090.3 L337.7,1087.5 L338.8,1084.7 L339.8,1081.9 L340.8,1079.2 L341.9,1076.4 L342.9,1073.6 L343.9,1070.7 L344.9,1067.9 L345.8,1065.1 L346.8,1062.3 L347.7,1059.5 L348.7,1056.7 L349.6,1053.8 L350.6,1051.0 L351.5,1048.2 L352.4,1045.3 L353.3,1042.5 L354.2,1039.6 L355.1,1036.8 L356.0,1033.9 L356.9,1031.1 L357.7,1028.2 L358.6,1025.4 L359.5,1022.5 L360.4,1019.6 L361.2,1016.8 L362.1,1013.9 L363.0,1011.0 L363.8,1008.2 L364.7,1005.3 L365.6,1002.4 L366.4,999.6 L367.3,996.7 L368.1,993.8 L369.0,990.9 L369.9,988.1 L370.8,985.2 L371.6,982.3 L372.5,979.5 L373.4,976.6 L374.3,973.7 L375.2,970.8 L376.1,968.0 L377.0,965.1 L377.9,962.2 L378.8,959.4 L379.8,956.5 L380.7,953.6 L381.7,950.8 L382.6,947.9 L383.6,945.1 L384.5,942.2 L385.5,939.4 L386.5,936.5 L387.5,933.7 L388.5,930.8 L389.6,928.0 L390.6,925.1 L391.6,922.3 L392.7,919.5 L393.7,916.7 L394.8,913.9 L395.9,911.0 L397.0,908.2 L398.1,905.4 L399.2,902.6 L400.4,899.8 L401.5,897.1 L402.7,894.3 L403.8,891.5 L405.0,888.7 L406.2,886.0 L407.4,883.2 L408.6,880.5 L409.9,877.7 L411.1,875.0 L412.4,872.3 L413.7,869.6 L415.0,866.9 L416.3,864.2 L417.6,861.5 L419.0,858.8 L420.3,856.1 L421.7,853.5 L423.1,850.8 L424.5,848.2 L425.9,845.6 L427.4,842.9 L428.8,840.3 L430.3,837.7 L431.8,835.1 L433.3,832.5 L434.8,830.0 L436.4,827.4 L437.9,824.9 L439.5,822.3 L441.1,819.8 L442.7,817.3 L444.4,814.8 L446.0,812.3 L447.7,809.9 L449.4,807.4 L451.1,805.0 L452.9,802.6 L454.6,800.2 L456.4,797.8 L458.2,795.4 L460.1,793.1 L461.9,790.8 L463.8,788.5 L465.7,786.2 L467.6,783.9 L469.6,781.7 L471.6,779.5 L473.6,777.3 L475.6,775.2 L477.7,773.0 L479.8,770.9 L481.9,768.9 L484.0,766.8 L486.2,764.8 L488.4,762.8 L490.6,760.9 L492.9,759.0 L495.2,757.1 L497.5,755.2 L499.8,753.3 L502.1,751.5 L504.5,749.7 L506.9,747.9 L509.3,746.1 L511.7,744.4 L514.1,742.6 L516.5,740.9 L519.0,739.2 L521.5,737.6 L524.0,735.9 L526.4,734.2 L529.0,732.6 L531.5,731.0 L534.0,729.3 L536.5,727.7 L539.0,726.1 L541.6,724.5 L544.1,722.9 L546.7,721.3 L549.2,719.7 L551.8,718.1 L554.3,716.5 L556.9,714.9 L559.4,713.3 L562.0,711.7 L564.5,710.1 L567.1,708.5 L569.6,706.9 L572.1,705.2 L574.6,703.6 L577.2,702.0 L579.7,700.3 L582.1,698.6 L584.6,696.9 L587.1,695.2 L589.6,693.5 L592.0,691.7 L594.4,690.0 L596.8,688.2 L599.2,686.4 L601.6,684.6 L604.0,682.7 L606.4,680.9 L608.7,679.0 L611.0,677.2 L613.4,675.3 L615.7,673.4 L618.0,671.5 L620.3,669.5 L622.6,667.6 L624.9,665.7 L627.2,663.7 L629.4,661.7 L631.7,659.8 L633.9,657.8 L636.2,655.8 L638.4,653.8 L640.7,651.8 L642.9,649.8 L645.2,647.8 L647.4,645.8 L649.6,643.8 L651.9,641.8 L654.1,639.8 L656.3,637.8 L658.5,635.8 L660.8,633.8 L663.0,631.8 L665.2,629.8 L667.4,627.8 L669.6,625.7 L671.9,623.7 L674.1,621.7 L676.3,619.7 L678.5,617.7 L680.7,615.7 L682.9,613.6 L685.1,611.6 L687.3,609.6 L689.5,607.6 L691.7,605.6 L693.9,603.5 L696.1,601.5 L698.3,599.5 L700.5,597.4 L702.7,595.4 L704.9,593.4 L707.1,591.3 L709.3,589.3 L711.5,587.3 L713.7,585.2 L715.9,583.2 L718.0,581.1 L720.2,579.1 L722.4,577.1 L724.6,575.0 L726.7,573.0 L728.9,570.9 L731.1,568.8 L733.3,566.8 L735.4,564.7 L737.6,562.7 L739.7,560.6 L741.9,558.5 L744.1,556.5 L746.2,554.4 L748.4,552.3 L750.5,550.2 L752.7,548.1 L754.8,546.1 L757.0,544.0 L759.1,541.9 L761.3,539.8 L763.4,537.7 L765.5,535.6 L767.7,533.5 L769.8,531.4 L771.9,529.3 L774.1,527.2 L776.2,525.1 L778.3,522.9 L780.4,520.8 L782.5,518.7 L784.6,516.6 L786.8,514.4 L788.9,512.3 L791.0,510.2 L793.1,508.0 L795.2,505.9 L797.3,503.7 L799.4,501.6 L801.5,499.4 L803.6,497.2 L805.7,495.1 L807.7,492.9 L809.8,490.7 L811.9,488.6 L814.0,486.4 L816.1,484.2 L818.2,482.1 L820.2,479.9 L822.3,477.7 L824.4,475.5 L826.5,473.4 L828.6,471.2 L830.7,469.0 L832.8,466.9 L834.9,464.7 L837.0,462.6 L839.1,460.4 L841.2,458.3 L843.3,456.1 L845.4,454.0 L847.5,451.9 L849.7,449.8 L851.8,447.6 L853.9,445.5 L856.1,443.5 L858.2,441.4 L860.4,439.3 L862.6,437.2 L864.8,435.2 L866.9,433.1 L869.1,431.1 L871.4,429.1 L873.6,427.1 L875.8,425.1 L878.0,423.1 L880.3,421.2 L882.5,419.2 L884.8,417.3 L887.1,415.4 L889.4,413.5 L891.7,411.6 L894.0,409.7 L896.4,407.9 L898.7,406.0 L901.1,404.2 L903.5,402.4 L905.8,400.6 L908.2,398.9 L910.6,397.1 L913.1,395.4 L915.5,393.6 L917.9,391.9 L920.4,390.2 L922.9,388.6 L925.3,386.9 L927.8,385.2 L930.3,383.6 L932.8,382.0 L935.3,380.3 L937.8,378.7 L940.4,377.1 L942.9,375.6 L945.5,374.0 L948.0,372.4 L950.6,370.9 L953.1,369.3 L955.7,367.8 L958.3,366.3 L960.9,364.7 L963.5,363.2 L966.1,361.7 L968.7,360.2 L971.3,358.8 L973.9,357.3 L976.5,355.8 L979.2,354.3 L981.8,352.9 L984.4,351.4 L987.1,350.0 L989.7,348.6 L992.4,347.1 L995.0,345.7 L997.7,344.3 L1000.3,342.8 L1003.0,341.4 L1005.6,340.0 L1008.3,338.6 L1011.0,337.2 L1013.6,335.8 L1016.3,334.4 L1019.0,333.0 L1021.6,331.6 L1024.3,330.2 L1027.0,328.8 L1029.6,327.4 L1032.3,326.0 L1035.0,324.6 L1037.7,323.2 L1040.3,321.8 L1043.0,320.4 L1045.7,318.9 L1048.3,317.5 L1051.0,316.1 L1053.6,314.7 L1056.3,313.3 L1058.9,311.9 L1061.6,310.5 L1064.2,309.1 L1066.9,307.6 L1069.5,306.2 L1072.2,304.8 L1074.8,303.3 L1077.4,301.9 L1080.0,300.4 L1082.7,299.0 L1085.3,297.5 L1087.9,296.0 L1090.5,294.5 L1093.1,293.1 L1095.7,291.6 L1098.3,290.1 L1100.8,288.6 L1103.4,287.1 L1106.0,285.6 L1108.6,284.1 L1111.1,282.6 L1113.7,281.0 L1116.3,279.5 L1118.8,278.0 L1121.4,276.5 L1123.9,274.9 L1126.5,273.4 L1129.0,271.8 L1131.6,270.3 L1134.1,268.7 L1136.7,267.2 L1139.2,265.6 L1141.8,264.1 L1144.3,262.5 L1146.8,261.0 L1149.4,259.4 L1151.9,257.9 L1154.5,256.3 L1157.0,254.7 L1159.5,253.2 L1162.1,251.6 L1164.6,250.0 L1167.1,248.5 L1169.7,246.9 L1172.2,245.3 L1174.7,243.8 L1177.3,242.2 L1179.8,240.6 L1182.4,239.1 L1184.9,237.5 L1187.4,235.9 L1190.0,234.4 L1192.5,232.8 L1195.1,231.2 L1197.6,229.7 L1200.2,228.1 L1202.7,226.6 L1205.3,225.0 L1207.9,223.5 L1210.4,221.9 L1213.0,220.4 L1215.6,218.8 L1218.1,217.3 L1220.7,215.8 L1223.3,214.2 L1225.9,212.7 L1228.5,211.2 L1231.1,209.6 L1233.7,208.1 L1236.3,206.6 L1238.9,205.1 L1241.5,203.6 L1244.1,202.1 L1246.8,200.6 L1249.4,199.1 L1252.0,197.6 L1254.7,196.1 L1257.3,194.7 L1260.0,193.2 L1262.6,191.8 L1265.3,190.3 L1267.9,188.9 L1270.6,187.4 L1273.3,186.0 L1276.0,184.6 L1278.7,183.2 L1281.4,181.8 L1284.1,180.4 L1286.8,179.1 L1289.5,177.7 L1292.2,176.4 L1294.9,175.0 L1297.6,173.7 L1300.4,172.4 L1303.1,171.1 L1305.8,169.8 L1308.6,168.6 L1311.3,167.3 L1314.1,166.1 L1316.8,164.9 L1319.6,163.7 L1322.4,162.5 L1325.1,161.3 L1327.9,160.2 L1330.7,159.0 L1333.5,157.9 L1336.3,156.8 L1339.1,155.7 L1341.9,154.7 L1344.7,153.7 L1347.5,152.6 L1350.3,151.6 L1353.2,150.7 L1356.0,149.7 L1358.8,148.8 L1361.7,147.9 L1364.5,147.0 L1367.4,146.1 L1370.2,145.3 L1373.1,144.5 L1375.9,143.7 L1378.8,142.9 L1381.7,142.2 L1384.5,141.5 L1387.4,140.8 L1390.3,140.1 L1393.2,139.5 L1396.1,138.9 L1399.0,138.3 L1401.9,137.8 L1404.8,137.3 L1407.7,136.8 L1410.7,136.3 L1413.6,135.9 L1416.5,135.4 L1419.5,135.1 L1422.4,134.7 L1425.3,134.4 L1428.3,134.1 L1431.2,133.8 L1434.2,133.5 L1437.1,133.3 L1440.1,133.1 L1443.1,132.9 L1446.0,132.7 L1449.0,132.6 L1452.0,132.4 L1455.0,132.3 L1457.9,132.3 L1460.9,132.2 L1463.9,132.2 L1466.9,132.1 L1469.9,132.1 L1472.9,132.2 L1475.9,132.2 L1478.9,132.3 L1481.8,132.3 L1484.8,132.4 L1487.8,132.6 L1490.8,132.7 L1493.9,132.8 L1496.9,133.0 L1499.9,133.2 L1502.9,133.4 L1505.9,133.6 L1508.9,133.8 L1511.9,134.0 L1514.9,134.3 L1517.9,134.5 L1520.9,134.8 L1523.9,135.1 L1527.0,135.4 L1530.0,135.7 L1533.0,136.1 L1536.0,136.4 L1539.0,136.8 L1542.0,137.1 L1545.0,137.5 L1548.0,137.9 L1551.0,138.2 L1554.1,138.6 L1557.1,139.1 L1560.1,139.5 L1563.1,139.9 L1566.1,140.3 L1569.1,140.8 L1572.1,141.2 L1575.1,141.7 L1578.1,142.1 L1581.1,142.6 L1584.1,143.1 L1587.1,143.6 L1590.1,144.1 L1593.1,144.6 L1596.0,145.1 L1599.0,145.7 L1602.0,146.2 L1605.0,146.8 L1608.0,147.4 L1610.9,147.9 L1613.9,148.5 L1616.8,149.1 L1619.8,149.8 L1622.8,150.4 L1625.7,151.0 L1628.6,151.7 L1631.6,152.4 L1634.5,153.1 L1637.4,153.8 L1640.4,154.5 L1643.3,155.2 L1646.2,156.0 L1649.1,156.7 L1652.0,157.5 L1654.9,158.3 L1657.8,159.1 L1660.7,159.9 L1663.5,160.8 L1666.4,161.6 L1669.3,162.5 L1672.1,163.4 L1675.0,164.3 L1677.8,165.2 L1680.6,166.2 L1683.5,167.1 L1686.3,168.1 L1689.1,169.1 L1691.9,170.1 L1694.7,171.2 L1697.5,172.2 L1700.2,173.3 L1703.0,174.4 L1705.8,175.5 L1708.5,176.7 L1711.2,177.8 L1714.0,179.0 L1716.7,180.2 L1719.4,181.4 L1722.1,182.7 L1724.8,183.9 L1727.5,185.2 L1730.2,186.5 L1732.8,187.8 L1735.5,189.1 L1738.2,190.5 L1740.8,191.8 L1743.4,193.2 L1746.1,194.6 L1748.7,196.0 L1751.3,197.5 L1753.9,198.9 L1756.5,200.4 L1759.1,201.9 L1761.6,203.4 L1764.2,204.9 L1766.8,206.4 L1769.3,208.0 L1771.8,209.5 L1774.4,211.1 L1776.9,212.7 L1779.4,214.3 L1781.9,215.9 L1784.4,217.6 L1786.9,219.2 L1789.4,220.9 L1791.9,222.6 L1794.3,224.3 L1796.8,226.0 L1799.2,227.7 L1801.7,229.4 L1804.1,231.2 L1806.5,232.9 L1808.9,234.7 L1811.3,236.5 L1813.7,238.3 L1816.1,240.1 L1818.5,242.0 L1820.9,243.8 L1823.2,245.6 L1825.6,247.5 L1827.9,249.4 L1830.3,251.3 L1832.6,253.2 L1834.9,255.1 L1837.2,257.0 L1839.5,258.9 L1841.8,260.9 L1844.1,262.8 L1846.4,264.8 L1848.7,266.8 L1850.9,268.7 L1853.2,270.7 L1855.4,272.7 L1857.7,274.8 L1859.9,276.8 L1862.1,278.8 L1864.3,280.8 L1866.6,282.9 L1868.8,284.9 L1870.9,287.0 L1873.1,289.1 L1875.3,291.2 L1877.5,293.3 L1879.6,295.4 L1881.8,297.5 L1883.9,299.6 L1886.1,301.7 L1888.2,303.8 L1890.3,305.9 L1892.4,308.1 L1894.5,310.2 L1896.6,312.4 L1898.7,314.5 L1900.8,316.7 L1902.8,318.9 L1904.9,321.1 L1907.0,323.2 L1909.0,325.4 L1911.1,327.6 L1913.1,329.8 L1915.1,332.0 L1917.1,334.3 L1919.2,336.5 L1921.2,338.7 L1923.2,340.9 L1925.2,343.2 L1927.1,345.4 L1929.1,347.6 L1931.1,349.9 L1933.1,352.2 L1935.0,354.4 L1937.0,356.7 L1939.0,359.0 L1940.9,361.2 L1942.8,363.5 L1944.8,365.8 L1946.7,368.1 L1948.6,370.4 L1950.5,372.7 L1952.5,375.0 L1954.4,377.3 L1956.3,379.6 L1958.2,381.9 L1960.1,384.2 L1962.0,386.6 L1963.8,388.9 L1965.7,391.2 L1967.6,393.6 L1969.5,395.9 L1971.3,398.2 L1973.2,400.6 L1975.1,402.9 L1976.9,405.3 L1978.8,407.6 L1980.6,410.0 L1982.5,412.4 L1984.3,414.7 L1986.1,417.1 L1988.0,419.5 L1989.8,421.8 L1991.6,424.2 L1993.5,426.6 L1995.3,429.0 L1997.1,431.3 L1998.9,433.7 L2000.7,436.1 L2002.5,438.5 L2004.3,440.9 L2006.1,443.3 L2007.9,445.7 L2009.7,448.1 L2011.5,450.5 L2013.3,452.9 L2015.1,455.3 L2016.9,457.7 L2018.7,460.1 L2020.5,462.5 L2022.3,464.9 L2024.1,467.3 L2025.9,469.7 L2027.7,472.2 L2029.4,474.6 L2031.2,477.0 L2033.0,479.4"/>
</g>
<g stroke-width="6.5">
<line x1="624" y1="891.5" x2="851" y2="891.5" stroke="#008000"/>
<line x1="624" y1="999" x2="851" y2="999" stroke="#ff0000"/>
<line x1="624" y1="1107" x2="851" y2="1107" stroke="#0000ff"/>
</g>
<g fill="#000">
<text transform="translate(200.35,74.00) scale(0.9833,1.0000)" font-family="&#39;Liberation Serif&#39;, &#39;Times New Roman&#39;, serif" font-size="84">0</text>
<text transform="translate(219.16,232.00) scale(1.0800,1.0386)" font-family="&#39;Liberation Serif&#39;, &#39;Times New Roman&#39;, serif" font-size="84">2</text>
<text transform="translate(222.06,386.50) scale(0.9375,1.0357)" font-family="&#39;Liberation Serif&#39;, &#39;Times New Roman&#39;, serif" font-size="84">4</text>
<text transform="translate(222.04,541.58) scale(0.9541,1.0224)" font-family="&#39;Liberation Serif&#39;, &#39;Times New Roman&#39;, serif" font-size="84">6</text>
<text transform="translate(222.72,696.38) scale(0.9611,1.0224)" font-family="&#39;Liberation Serif&#39;, &#39;Times New Roman&#39;, serif" font-size="84">8</text>
<text transform="translate(188.42,852.96) scale(0.9833,1.0179)" font-family="&#39;Liberation Serif&#39;, &#39;Times New Roman&#39;, serif" font-size="84">1</text>
<text transform="translate(230.07,854.14) scale(1.0444,1.0241)" font-family="&#39;Liberation Serif&#39;, &#39;Times New Roman&#39;, serif" font-size="84">0</text>
<text transform="translate(151.19,858.36) scale(0.7026,0.8000)" font-family="&#39;Liberation Serif&#39;, &#39;Times New Roman&#39;, serif" font-size="84">−</text>
<text transform="translate(188.42,1007.72) scale(0.9833,1.0179)" font-family="&#39;Liberation Serif&#39;, &#39;Times New Roman&#39;, serif" font-size="84">1</text>
<text transform="translate(229.98,1009.92) scale(1.0743,1.0421)" font-family="&#39;Liberation Serif&#39;, &#39;Times New Roman&#39;, serif" font-size="84">2</text>
<text transform="translate(151.19,1013.12) scale(0.7026,0.8000)" font-family="&#39;Liberation Serif&#39;, &#39;Times New Roman&#39;, serif" font-size="84">−</text>
<text transform="translate(188.42,1162.47) scale(0.9833,1.0179)" font-family="&#39;Liberation Serif&#39;, &#39;Times New Roman&#39;, serif" font-size="84">1</text>
<text transform="translate(232.26,1164.67) scale(0.9400,1.0607)" font-family="&#39;Liberation Serif&#39;, &#39;Times New Roman&#39;, serif" font-size="84">4</text>
<text transform="translate(151.19,1167.87) scale(0.7026,0.8000)" font-family="&#39;Liberation Serif&#39;, &#39;Times New Roman&#39;, serif" font-size="84">−</text>
<text transform="translate(188.42,1317.22) scale(0.9833,1.0179)" font-family="&#39;Liberation Serif&#39;, &#39;Times New Roman&#39;, serif" font-size="84">1</text>
<text transform="translate(230.15,1318.40) scale(1.0162,1.0241)" font-family="&#39;Liberation Serif&#39;, &#39;Times New Roman&#39;, serif" font-size="84">6</text>
<text transform="translate(151.19,1322.62) scale(0.7026,0.8000)" font-family="&#39;Liberation Serif&#39;, &#39;Times New Roman&#39;, serif" font-size="84">−</text>
<text transform="translate(181.27,242.35) scale(0.7564,1.0400)" font-family="&#39;Liberation Serif&#39;, &#39;Times New Roman&#39;, serif" font-size="84">−</text>
<text transform="translate(181.27,397.11) scale(0.7564,1.0400)" font-family="&#39;Liberation Serif&#39;, &#39;Times New Roman&#39;, serif" font-size="84">−</text>
<text transform="translate(181.27,551.86) scale(0.7564,1.0400)" font-family="&#39;Liberation Serif&#39;, &#39;Times New Roman&#39;, serif" font-size="84">−</text>
<text transform="translate(181.27,706.61) scale(0.7564,1.0400)" font-family="&#39;Liberation Serif&#39;, &#39;Times New Roman&#39;, serif" font-size="84">−</text>
<text transform="translate(226.07,1465.38) scale(0.9467,1.0190)" font-family="&#39;Liberation Serif&#39;, &#39;Times New Roman&#39;, serif" font-size="84">1.43</text>
<text transform="translate(513.01,1465.36) scale(0.9705,1.0368)" font-family="&#39;Liberation Serif&#39;, &#39;Times New Roman&#39;, serif" font-size="84">1.44</text>
<text transform="translate(801.66,1465.36) scale(0.9635,1.0368)" font-family="&#39;Liberation Serif&#39;, &#39;Times New Roman&#39;, serif" font-size="84">1.45</text>
<text transform="translate(1088.81,1465.38) scale(0.9841,1.0190)" font-family="&#39;Liberation Serif&#39;, &#39;Times New Roman&#39;, serif" font-size="84">1.46</text>
<text transform="translate(1377.09,1465.36) scale(0.9725,1.0368)" font-family="&#39;Liberation Serif&#39;, &#39;Times New Roman&#39;, serif" font-size="84">1.47</text>
<text transform="translate(1665.26,1465.38) scale(0.9766,1.0190)" font-family="&#39;Liberation Serif&#39;, &#39;Times New Roman&#39;, serif" font-size="84">1.48</text>
<text transform="translate(1951.78,1465.58) scale(0.9883,1.0224)" font-family="&#39;Liberation Serif&#39;, &#39;Times New Roman&#39;, serif" font-size="84">1.49</text>
<text transform="translate(907.90,1564.79) scale(1.0114,0.9896)" font-family="&#39;Liberation Serif&#39;, &#39;Times New Roman&#39;, serif" font-size="84">Wavelength (µm)</text>
<text transform="translate(76.04,1147.94) rotate(-90) scale(1.0117,1.0090)" font-family="&#39;Liberation Serif&#39;, &#39;Times New Roman&#39;, serif" font-size="84">Coupling efficiency (dB)</text>
<text transform="translate(974.41,917.96) scale(1.0984,0.9641) skewX(11)" font-family="&#39;Noto Sans CJK SC&#39;, sans-serif" font-size="85" font-weight="100">⊿</text>
<text transform="translate(1061.71,917.40) scale(0.9950,0.9925)" font-family="&#39;Liberation Serif&#39;, &#39;Times New Roman&#39;, serif" font-size="85">n</text>
<text transform="translate(1129.40,915.14) scale(1.1500,0.8409)" font-family="&#39;Liberation Serif&#39;, &#39;Times New Roman&#39;, serif" font-size="85">=</text>
<text transform="translate(1208.12,925.20) scale(1.0950,1.2000)" font-family="&#39;Liberation Serif&#39;, &#39;Times New Roman&#39;, serif" font-size="85">−</text>
<text transform="translate(1266.69,918.50) scale(0.9686,1.0017)" font-family="&#39;Liberation Serif&#39;, &#39;Times New Roman&#39;, serif" font-size="85">003</text>
<text transform="translate(984.96,1020.98) scale(1.1047,0.9750) skewX(11)" font-family="&#39;Noto Sans CJK SC&#39;, sans-serif" font-size="85" font-weight="100">⊿</text>
<text transform="translate(1073.13,1021.30) scale(0.9825,1.0100)" font-family="&#39;Liberation Serif&#39;, &#39;Times New Roman&#39;, serif" font-size="85">n</text>
<text transform="translate(1137.62,1017.56) scale(1.1450,0.8091)" font-family="&#39;Liberation Serif&#39;, &#39;Times New Roman&#39;, serif" font-size="85">=</text>
<text transform="translate(1213.92,1021.01) scale(0.9946,0.9948)" font-family="&#39;Liberation Serif&#39;, &#39;Times New Roman&#39;, serif" font-size="85">0</text>
<text transform="translate(995.80,1138.26) scale(1.0781,0.9594) skewX(11)" font-family="&#39;Noto Sans CJK SC&#39;, sans-serif" font-size="85" font-weight="100">⊿</text>
<text transform="translate(1083.26,1138.70) scale(0.9725,0.9725)" font-family="&#39;Liberation Serif&#39;, &#39;Times New Roman&#39;, serif" font-size="85">n</text>
<text transform="translate(1148.63,1132.95) scale(1.1425,0.7136)" font-family="&#39;Liberation Serif&#39;, &#39;Times New Roman&#39;, serif" font-size="85">=</text>
<text transform="translate(1223.19,1139.58) scale(0.9713,1.0207)" font-family="&#39;Liberation Serif&#39;, &#39;Times New Roman&#39;, serif" font-size="85">0.03</text>
</g>
</svg>
</body></html>
